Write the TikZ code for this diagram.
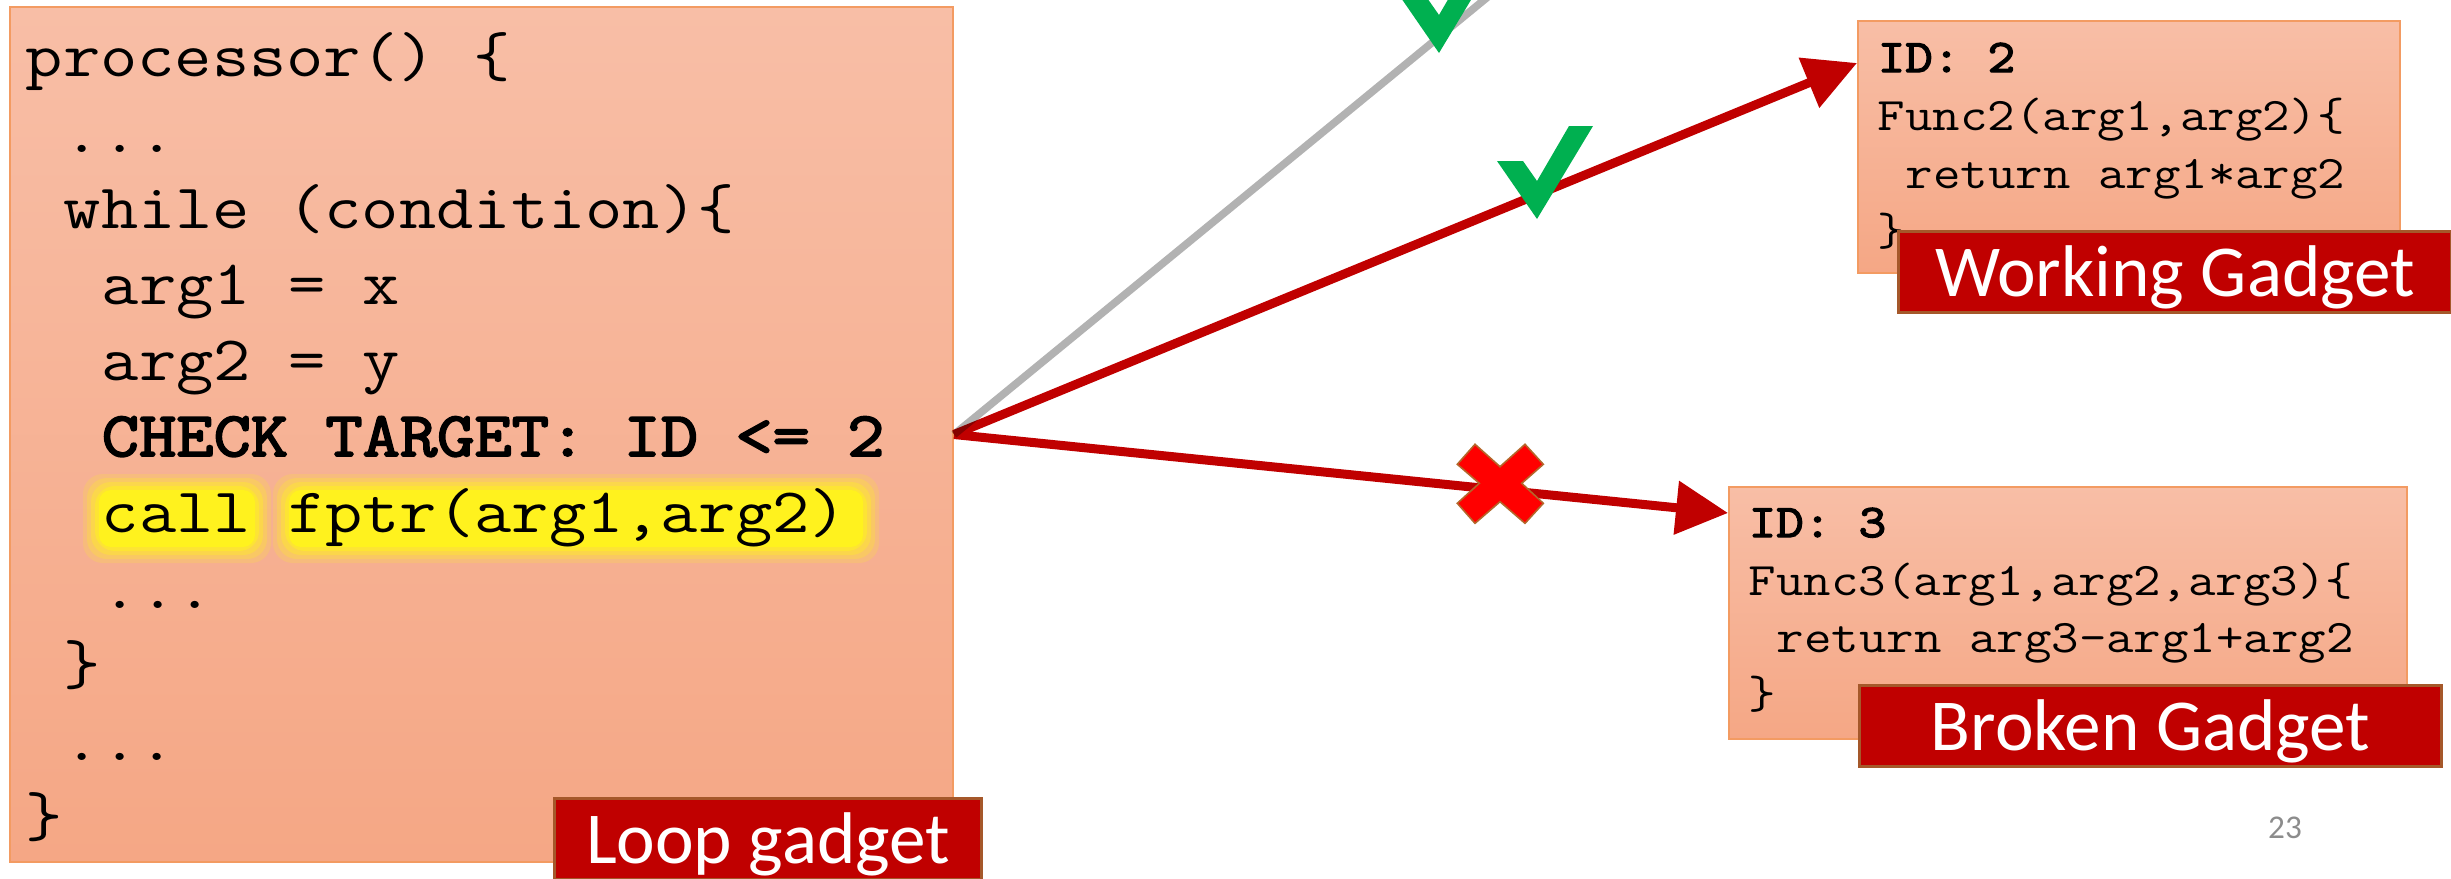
\documentclass[tikz,border=0pt]{standalone}
\usepackage{fontspec}
\usetikzlibrary{arrows.meta,calc}
\newfontfamily\codefont[FakeStretch=1.143, BoldFont={Latin Modern Mono}, BoldFeatures={FakeBold=3}]{Latin Modern Mono}
\newfontfamily\lblfont{Carlito}
\definecolor{boxtop}{HTML}{F8BEA6}
\definecolor{boxbot}{HTML}{F5A785}
\definecolor{boxline}{HTML}{F39B62}
\definecolor{lblred}{HTML}{C00000}
\definecolor{lblline}{HTML}{A5582A}
\definecolor{arrred}{HTML}{C00000}
\definecolor{okgreen}{HTML}{00B050}
\definecolor{xred}{HTML}{FF0000}
\definecolor{xline}{HTML}{B4662A}
\definecolor{hl}{HTML}{FFF21E}
\definecolor{pgnum}{HTML}{8C8C8C}
\newcommand\glowbox[4]{%
  \foreach \e/\o in {16/0.18,12/0.25,8/0.35,4/0.5}{%
    \fill[hl, opacity=\o, rounded corners=5pt] ({#1-\e},{#2-\e}) rectangle ({#3+\e},{#4+\e});}%
  \fill[hl, rounded corners=3pt] (#1,#2) rectangle (#3,#4);}
\begin{document}
\begin{tikzpicture}[x=0.25pt,y=-0.25pt,
  codebox/.style={draw=boxline, line width=0.5pt, top color=boxtop, bottom color=boxbot, inner sep=0pt, anchor=north west},
  lbl/.style={draw=lblline, line width=0.75pt, fill=lblred, text=white, font=\lblfont\fontsize{18.3pt}{22pt}\selectfont, inner sep=0pt, anchor=north west, minimum height=20.25pt, text height=12.25pt, text depth=0pt},
  bigcode/.style={font=\codefont\fontsize{15.83pt}{19pt}\selectfont, inner sep=0pt, anchor=base west},
  smallcode/.style={font=\codefont\fontsize{11.67pt}{14pt}\selectfont, inner sep=0pt, anchor=base west},
  redarrow/.style={draw=arrred, line width=2.25pt, -{Triangle[length=13pt,width=13pt]}},
  grayline/.style={draw=black, draw opacity=0.3, line width=1.9pt},
  check/.style={fill=okgreen},
  cross/.style={fill=xred, draw=xline, line width=0.4pt, line join=miter},
  pagenum/.style={font=\lblfont\fontsize{8.3pt}{10pt}\selectfont, text=pgnum, anchor=base, inner sep=0pt}
]
\frenchspacing
\useasboundingbox (0,0) rectangle (2451,878);
\clip (0,0) rectangle (2451,878);

% boxes
\node[codebox, minimum width=235.75pt, minimum height=213.75pt] (loop) at (9,6) {};
\node[codebox, minimum width=135.5pt, minimum height=63pt] (box2) at (1857,20) {};
\node[codebox, minimum width=169.5pt, minimum height=63pt] (box3) at (1728,486) {};

% highlight glow
\glowbox{99}{490}{255}{547}
\glowbox{289}{490}{863}{547}

% loop code
\node[bigcode] (l0) at (25,76) {processor() \{};
\node[bigcode] (l1) at (63,152) {...};
\node[bigcode] (l2) at (63,228) {while (condition)\{};
\node[bigcode] (l3) at (101,304) {arg1 = x};
\node[bigcode] (l4) at (101,380) {arg2 = y};
\node[bigcode] (l5) at (101,456) {\bfseries CHECK TARGET: ID <= 2};
\node[bigcode] (l6) at (101,532) {call fptr(arg1,arg2)};
\node[bigcode] (l7) at (101,608) {...};
\node[bigcode] (l8) at (63,684) {\}};
\node[bigcode] (l9) at (63,760) {...};
\node[bigcode] (l10) at (25,836) {\}};

% box 2 code
\node[smallcode] (a0) at (1877,72) {\bfseries ID: 2};
\node[smallcode] (a1) at (1877,130) {Func2(arg1,arg2)\{};
\node[smallcode] (a2) at (1905,188) {return arg1*arg2};
\node[smallcode] (a3) at (1877,245) {\}};

% box 3 code
\node[smallcode] (b0) at (1748,537) {\bfseries ID: 3};
\node[smallcode] (b1) at (1748,595) {Func3(arg1,arg2,arg3)\{};
\node[smallcode] (b2) at (1776,652) {return arg3-arg1+arg2};
\node[smallcode] (b3) at (1748,708) {\}};

% connectors
\coordinate (tgt2) at ($(box2.north west)+(0,43)$);
\coordinate (tgt3) at ($(box3.north west)+(0,27)$);
\coordinate (gend) at (1606,-100);
\draw[redarrow] (loop.east) -- (tgt2);
\draw[redarrow] (loop.east) -- (tgt3);
\draw[grayline] (loop.east) -- (gend);

% marks
\fill[check] (1497,161) -- (1523,161) -- (1537,181) -- (1569,126) -- (1593,126) -- (1537,219) -- cycle;
\fill[check] (1399,-5) -- (1425,-5) -- (1439,15) -- (1471,-40) -- (1495,-40) -- (1439,53) -- cycle;
\filldraw[cross] (1475,444.3) -- (1500,466.7) -- (1525,444.3) -- (1543.3,464.3) -- (1521.7,483.3) -- (1543.3,503.3) -- (1525,523.3) -- (1500,501.7) -- (1475,523.3) -- (1457.3,503.3) -- (1479.3,483.3) -- (1457.3,464.3) -- cycle;

% labels
\node[lbl, minimum width=106.75pt] (looplbl) at (553,797) {Loop gadget};
\node[lbl, minimum width=138.25pt] (worklbl) at (1897,230) {Working Gadget};
\node[lbl, minimum width=145.5pt] (brokenlbl) at (1858,684) {Broken Gadget};

\node[pagenum] (pg) at (2285,838) {23};
\end{tikzpicture}
\end{document}
